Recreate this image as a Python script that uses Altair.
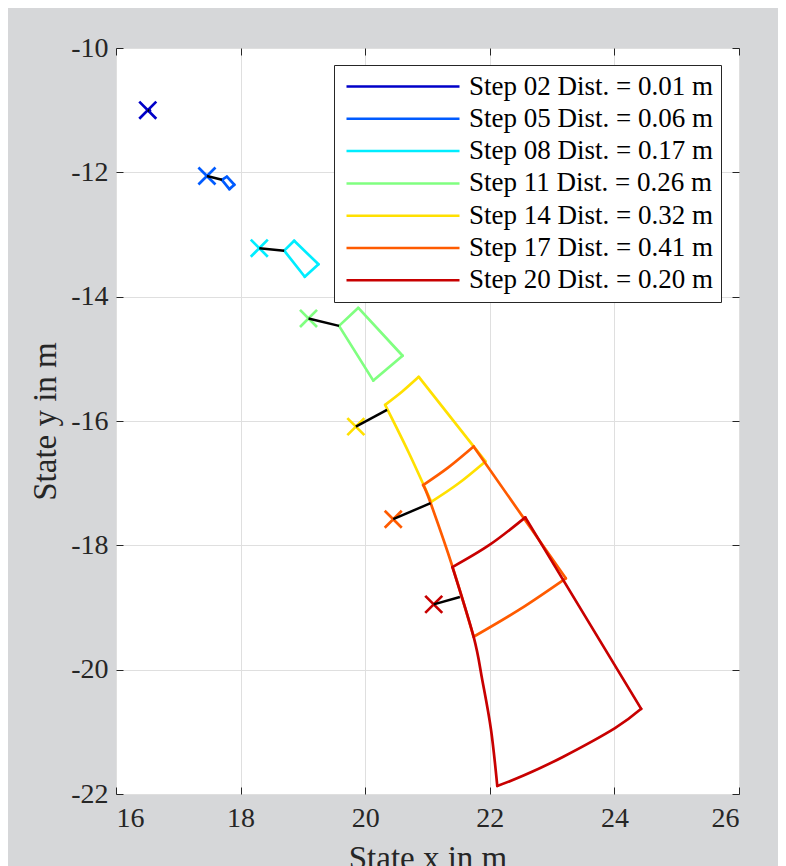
import altair as alt
import pandas as pd

# ---------------- data ----------------
STEPS = [
    "Step 02 Dist. = 0.01 m",
    "Step 05 Dist. = 0.06 m",
    "Step 08 Dist. = 0.17 m",
    "Step 11 Dist. = 0.26 m",
    "Step 14 Dist. = 0.32 m",
    "Step 17 Dist. = 0.41 m",
    "Step 20 Dist. = 0.20 m",
]
COLORS = ["#0000c8", "#005bff", "#00edff", "#80ff80", "#ffe000", "#ff5b00", "#c80000"]

# cross markers (start states)
MARK_X = [16.51, 17.46, 18.30, 19.09, 19.85, 20.45, 21.10]
MARK_Y = [-11.00, -12.06, -13.22, -14.35, -16.09, -17.58, -18.95]
# end of the black connector on each outline
LINK_X = [16.53, 17.70, 18.70, 19.58, 20.35, 21.05, 21.52]
LINK_Y = [-11.01, -12.12, -13.26, -14.47, -15.82, -17.32, -18.83]

# outlines of the reachable regions (closed), with the indices of their corners
S02_X = [16.525, 16.535, 16.545, 16.535, 16.525]
S02_Y = [-11.005, -10.998, -11.010, -11.017, -11.005]
S02_C = [0, 1, 2, 3, 4]
S05_X = [17.70, 17.78, 17.90, 17.82, 17.70]
S05_Y = [-12.12, -12.07, -12.20, -12.27, -12.12]
S05_C = [0, 1, 2, 3, 4]
S08_X = [18.70, 18.86, 19.25, 19.03, 18.70]
S08_Y = [-13.26, -13.10, -13.48, -13.68, -13.26]
S08_C = [0, 1, 2, 3, 4]
S11_X = [19.58, 19.89, 20.60, 20.13, 19.58]
S11_Y = [-14.47, -14.18, -14.95, -15.35, -14.47]
S11_C = [0, 1, 2, 3, 4]
S14_X = [20.32, 20.59, 20.86, 21.93, 21.49, 21.06, 20.70, 20.32]
S14_Y = [-15.74, -15.53, -15.29, -16.65, -17.01, -17.30, -16.51, -15.74]
S14_C = [0, 2, 3, 5, 7]
S17_X = [20.93, 21.33, 21.74, 23.22, 22.48, 21.74, 21.40, 21.05, 20.93]
S17_Y = [-17.03, -16.75, -16.41, -18.53, -19.03, -19.47, -18.34, -17.32, -17.03]
S17_C = [0, 2, 3, 5, 8]
S20_X = [21.40, 22.00, 22.57, 24.43, 24.01, 23.18, 22.55, 22.12, 22.02, 21.88, 21.74, 21.40]
S20_Y = [-18.35, -17.99, -17.55, -20.63, -20.94, -21.40, -21.70, -21.87, -20.97, -20.17, -19.47, -18.35]
S20_C = [0, 2, 3, 7, 11]

X_TICKS = [16, 18, 20, 22, 24, 26]
Y_TICKS = [-22, -20, -18, -16, -14, -12, -10]

# ---------------- tables ----------------
SHAPES = [
    (S02_X, S02_Y, S02_C), (S05_X, S05_Y, S05_C), (S08_X, S08_Y, S08_C),
    (S11_X, S11_Y, S11_C), (S14_X, S14_Y, S14_C), (S17_X, S17_Y, S17_C),
    (S20_X, S20_Y, S20_C),
]

shape_rows = []
for name, (sx, sy, corners) in zip(STEPS, SHAPES):
    for e in range(len(corners) - 1):
        for i in range(corners[e], corners[e + 1] + 1):
            shape_rows.append({"step": name, "edge": f"{name}-{e}", "i": i,
                               "x": sx[i], "y": sy[i]})
shape_df = pd.DataFrame(shape_rows)

link_rows = []
for name, mx, my, lx, ly in zip(STEPS, MARK_X, MARK_Y, LINK_X, LINK_Y):
    link_rows.append({"step": name, "i": 0, "x": mx, "y": my})
    link_rows.append({"step": name, "i": 1, "x": lx, "y": ly})
link_df = pd.DataFrame(link_rows)

marker_df = pd.DataFrame({"step": STEPS, "x": MARK_X, "y": MARK_Y})

# ---------------- styling ----------------
FONT = "Liberation Serif"
AXC = "#262626"
xs = alt.Scale(domain=[16, 26], nice=False, zero=False)
ys = alt.Scale(domain=[-22, -10], nice=False, zero=False)
cs = alt.Scale(domain=STEPS, range=COLORS)

main_x = alt.Axis(orient="bottom", values=X_TICKS, grid=True, gridColor="#dfdfdf",
                  domain=False, ticks=False, labelFont=FONT, labelFontSize=28,
                  labelColor=AXC, labelPadding=10, labelExpr="'' + datum.value",
                  title="State x in m", titleFont=FONT, titleFontSize=33,
                  titleFontWeight="normal", titleColor=AXC, titlePadding=10)
main_y = alt.Axis(orient="left", values=Y_TICKS, grid=True, gridColor="#dfdfdf",
                  domain=False, ticks=False, labelFont=FONT, labelFontSize=28,
                  labelColor=AXC, labelPadding=8, labelExpr="'' + datum.value",
                  title="State y in m", titleFont=FONT, titleFontSize=33,
                  titleFontWeight="normal", titleColor=AXC, titlePadding=8)


def tick_axis(orient, vals):
    return alt.Axis(orient=orient, values=vals, offset=-7, tickSize=7, tickColor=AXC,
                    tickWidth=1, labels=False, domain=False, grid=False, title=None)


legend = alt.Legend(orient="none", legendX=218, legendY=17, title=None,
                    symbolType="stroke", symbolSize=12769, symbolStrokeWidth=2.5,
                    labelFont=FONT, labelFontSize=27, labelColor="black", labelLimit=600,
                    labelExpr="datum.label + '\u00a0'",
                    padding=8, clipHeight=27, rowPadding=4.3, symbolOffset=3,
                    labelOffset=8, strokeColor=AXC, fillColor="white", cornerRadius=0)

XPATH = "M-1,-1L1,1M-1,1L1,-1"

shapes = alt.Chart(shape_df).mark_line(strokeWidth=2.7, interpolate="cardinal",
                                       strokeCap="round", strokeJoin="round").encode(
    x=alt.X("x:Q", scale=xs, axis=main_x),
    y=alt.Y("y:Q", scale=ys, axis=main_y),
    color=alt.Color("step:N", scale=cs, legend=legend),
    detail="edge:N",
    order="i:Q",
)

markers = alt.Chart(marker_df).mark_point(shape=XPATH, size=290, strokeWidth=2.7, opacity=1).encode(
    x=alt.X("x:Q", scale=xs, axis=tick_axis("bottom", X_TICKS)),
    y=alt.Y("y:Q", scale=ys, axis=tick_axis("left", Y_TICKS)),
    color=alt.Color("step:N", scale=cs, legend=legend),
)

connectors = alt.Chart(link_df).mark_line(color="black", strokeWidth=2.5).encode(
    x=alt.X("x:Q", scale=xs, axis=tick_axis("top", X_TICKS)),
    y=alt.Y("y:Q", scale=ys, axis=tick_axis("right", Y_TICKS)),
    detail="step:N",
    order="i:Q",
)

chart = (
    alt.layer(shapes, markers, connectors)
    .resolve_axis(x="independent", y="independent")
    .properties(
        width=623,
        height=746,
        autosize=alt.AutoSizeParams(type="none"),
        padding={"left": 108, "top": 40, "right": 39, "bottom": 80},
        background="#d6d7d9",
    )
    .configure_view(fill="white", stroke=AXC, strokeWidth=1)
)

chart.save("out.html", embed_options={"renderer": "svg", "actions": False})
